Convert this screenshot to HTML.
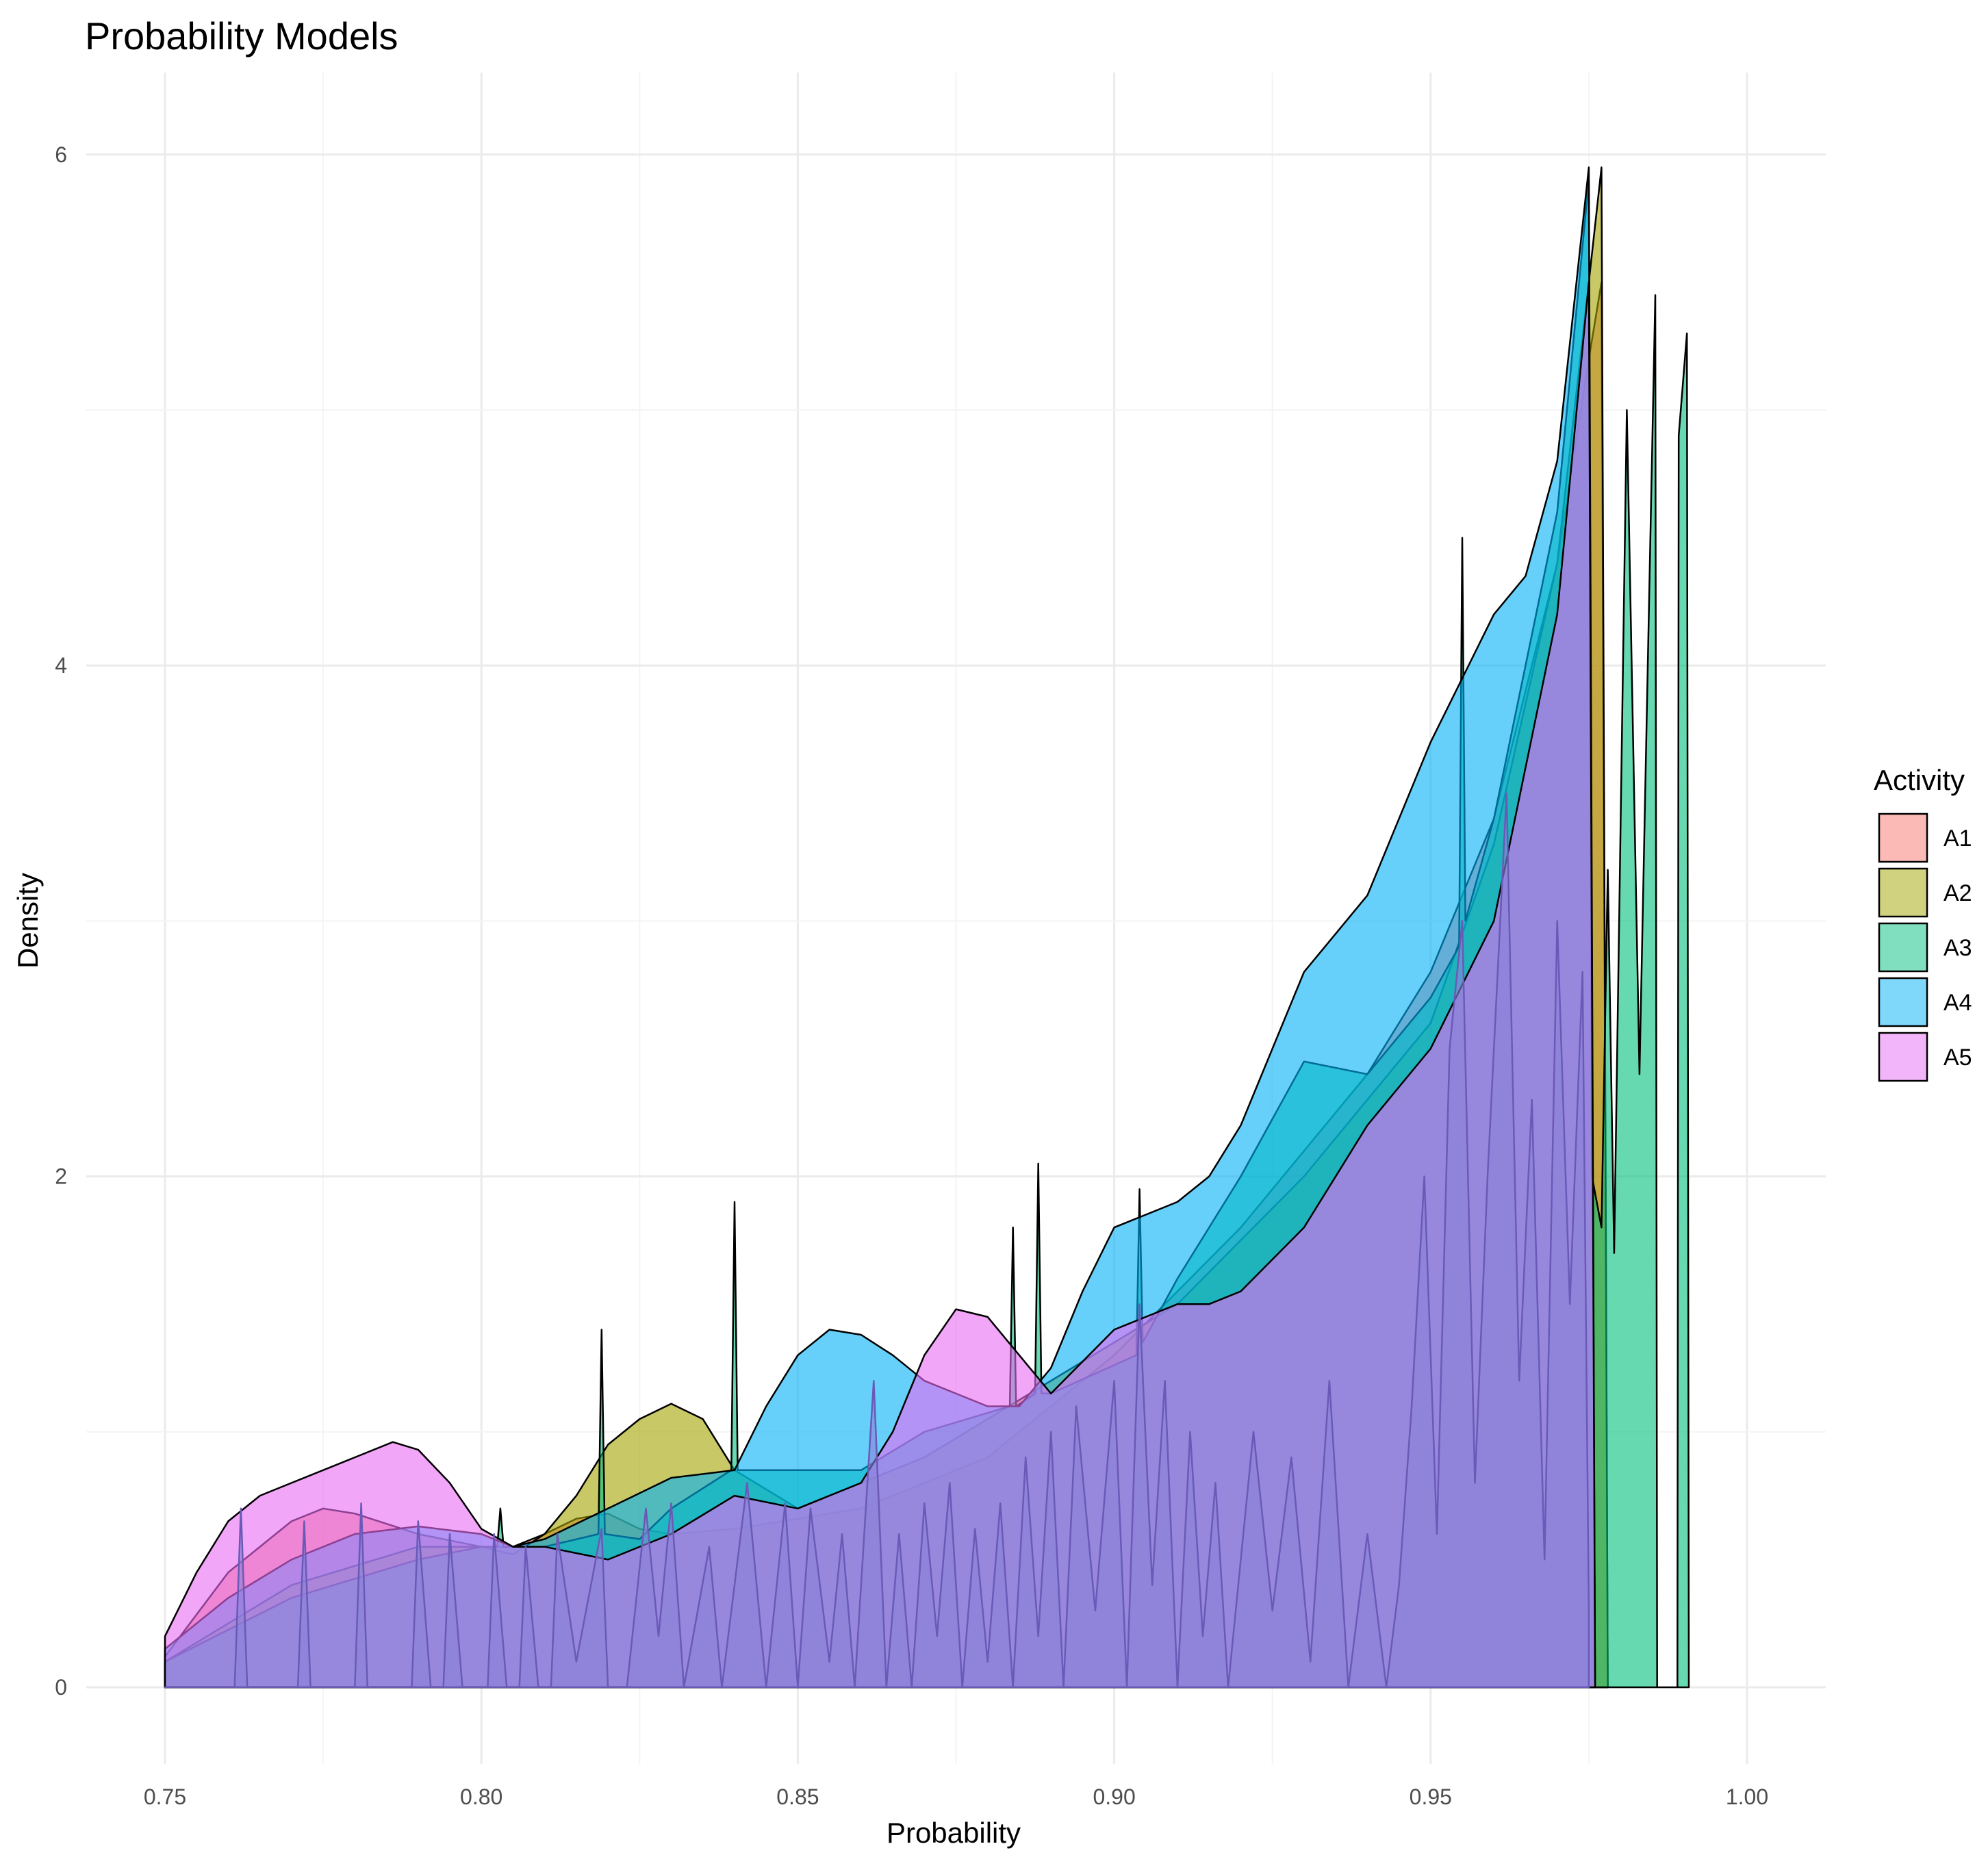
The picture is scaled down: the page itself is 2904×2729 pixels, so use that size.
<!DOCTYPE html>
<html><head><meta charset="utf-8"><style>
body{margin:0;background:#fff}
svg{display:block}
text{font-family:"Liberation Sans",sans-serif}
</style></head><body>
<svg id="chart" width="2904" height="2729" viewBox="0 0 2904 2729" xmlns="http://www.w3.org/2000/svg">
<rect width="2904" height="2729" fill="#fff"/>
<text x="124" y="72" font-size="56" fill="#000">Probability Models</text>
<g id="grid"></g>
<g id="series"></g>
<g id="axes"></g>
<text x="1393" y="2692" font-size="42" text-anchor="middle" fill="#000">Probability</text>
<text transform="translate(55,1345) rotate(-90)" font-size="42" text-anchor="middle" fill="#000">Density</text>
<g id="legend"></g>
</svg>
<script>
const xTicks=[0.75,0.80,0.85,0.90,0.95,1.00];
const xTickLabels=["0.75","0.80","0.85","0.90","0.95","1.00"];
const yTicks=[0,2,4,6];
const yTickLabels=["0","2","4","6"];
const activities=["A1","A2","A3","A4","A5"];
const colors=["#F8766D","#A3A500","#00BF7D","#00B0F6","#E76BF3"];
const a1X=[0.75,0.76,0.77,0.775,0.78,0.79,0.80,0.805,0.81,0.815,0.82,0.825,0.83,0.84,0.86,0.88,0.90,0.92,0.94,0.95,0.96,0.97,0.975,0.977,0.978];
const a1Y=[0.12,0.45,0.65,0.7,0.68,0.6,0.55,0.55,0.6,0.66,0.68,0.62,0.6,0.62,0.7,0.9,1.3,1.8,2.4,2.8,3.4,4.4,5.2,5.5,0];
const a2X=[0.75,0.77,0.79,0.80,0.805,0.81,0.815,0.82,0.825,0.83,0.835,0.84,0.85,0.87,0.89,0.91,0.93,0.95,0.96,0.97,0.975,0.977,0.978];
const a2Y=[0.1,0.4,0.55,0.55,0.52,0.6,0.75,0.95,1.05,1.11,1.05,0.85,0.7,0.9,1.2,1.5,2.0,2.6,3.3,4.4,5.5,5.95,0];
const a3X=[0.75,0.77,0.79,0.80,0.8025,0.803,0.8035,0.81,0.8185,0.819,0.8195,0.825,0.83,0.8395,0.84,0.8405,0.85,0.86,0.87,0.8835,0.884,0.8845,0.8875,0.888,0.8885,0.89,0.9035,0.904,0.9045,0.91,0.92,0.93,0.94,0.95,0.9545,0.955,0.9555,0.96,0.97,0.975,0.9755,0.977,0.978,0.979,0.981,0.983,0.9855,0.9858,0.989,0.9892,0.9905,0.9908];
const a3Y=[0.1,0.35,0.5,0.55,0.55,0.7,0.55,0.55,0.6,1.4,0.6,0.58,0.7,0.85,1.9,0.85,0.85,0.85,1.0,1.1,1.8,1.1,1.15,2.05,1.15,1.15,1.3,1.95,1.35,1.6,2.0,2.45,2.4,2.7,2.9,4.5,3.0,3.4,4.6,5.9,2.0,1.8,3.2,1.7,5.0,2.4,5.45,0,0,4.9,5.3,0];
const a4X=[0.75,0.76,0.77,0.78,0.79,0.80,0.805,0.81,0.82,0.83,0.84,0.845,0.85,0.855,0.86,0.865,0.87,0.88,0.885,0.89,0.895,0.90,0.91,0.915,0.92,0.93,0.94,0.95,0.96,0.965,0.97,0.975,0.976];
const a4Y=[0.15,0.35,0.5,0.6,0.63,0.6,0.55,0.58,0.7,0.82,0.85,1.1,1.3,1.4,1.38,1.3,1.2,1.1,1.1,1.25,1.55,1.8,1.9,2.0,2.2,2.8,3.1,3.7,4.2,4.35,4.8,5.95,0];
const a5X=[0.75,0.755,0.76,0.765,0.77,0.78,0.786,0.79,0.795,0.80,0.805,0.81,0.82,0.83,0.84,0.85,0.86,0.865,0.87,0.875,0.88,0.885,0.89,0.90,0.91,0.915,0.92,0.93,0.94,0.95,0.96,0.97,0.975,0.976];
const a5Y=[0.2,0.45,0.65,0.75,0.8,0.9,0.96,0.93,0.8,0.62,0.55,0.55,0.5,0.6,0.75,0.7,0.8,1.0,1.3,1.48,1.45,1.3,1.15,1.4,1.5,1.5,1.55,1.8,2.2,2.5,3.0,4.2,5.5,0];
const spikeX=[0.75,0.761,0.762,0.763,0.771,0.772,0.773,0.78,0.781,0.782,0.789,0.79,0.792,0.794,0.795,0.797,0.801,0.802,0.804,0.806,0.807,0.809,0.811,0.812,0.815,0.819,0.82,0.823,0.826,0.828,0.83,0.832,0.836,0.838,0.842,0.845,0.848,0.85,0.852,0.855,0.857,0.859,0.862,0.864,0.866,0.868,0.87,0.872,0.874,0.876,0.878,0.88,0.882,0.884,0.886,0.888,0.89,0.892,0.894,0.897,0.9,0.902,0.904,0.906,0.908,0.91,0.912,0.914,0.916,0.918,0.922,0.925,0.928,0.931,0.934,0.937,0.94,0.943,0.945,0.947,0.949,0.951,0.953,0.955,0.957,0.959,0.962,0.964,0.966,0.968,0.97,0.972,0.974,0.975];
const spikeY=[0,0,0.7,0,0,0.65,0,0,0.72,0,0,0.65,0,0,0.6,0,0,0.6,0,0,0.55,0,0,0.6,0.1,0.62,0,0,0.7,0.2,0.72,0,0.55,0,0.8,0,0.72,0,0.7,0.1,0.6,0,1.2,0,0.6,0,0.72,0.2,0.8,0,0.62,0.1,0.72,0,0.9,0.2,1.0,0,1.1,0.3,1.2,0,1.5,0.4,1.2,0,1.0,0.2,0.8,0,1.0,0.3,0.9,0.1,1.2,0,0.6,0,0.4,1.1,2.0,0.6,2.5,3.0,0.8,2.0,3.5,1.2,2.3,0.5,3.0,1.5,2.8,0.3];

const NS="http://www.w3.org/2000/svg";
const X=v=>241+(v-0.75)/0.25*2311;
const Y=d=>2465-d*373.2;
const L=126,R=2667,T=106,B=2577;
function mk(tag,attrs,parent){const e=document.createElementNS(NS,tag);for(const k in attrs)e.setAttribute(k,attrs[k]);parent.appendChild(e);return e;}
const grid=document.getElementById('grid');
for(let k=0;k<=10;k++){
  const v=0.75+k*0.025;
  const major=k%2===0;
  const ln=mk('line',{x1:X(v),x2:X(v),y1:T,y2:B,stroke:major?'#ebebeb':'#f4f4f4','stroke-width':major?3:2},grid);
  
  
}
for(let d=0;d<=6;d+=1){
  const major=d%2===0;
  const ln=mk('line',{x1:L,x2:R,y1:Y(d),y2:Y(d),stroke:major?'#ebebeb':'#f4f4f4','stroke-width':major?3:2},grid);
  
  
}
const axes=document.getElementById('axes');
xTicks.forEach((v,i)=>{const t=mk('text',{x:X(v),y:2636,'font-size':32,'text-anchor':'middle',fill:'#4d4d4d'},axes);t.textContent=xTickLabels[i];
  
  });
yTicks.forEach((v,i)=>{const t=mk('text',{x:98,y:Y(v)+11,'font-size':32,'text-anchor':'end',fill:'#4d4d4d'},axes);t.textContent=yTickLabels[i];
  
  });
const ser=document.getElementById('series');
function area(xs,ys,fill,op,stroke,name){
  let d='M'+X(xs[0])+','+Y(0);
  for(let i=0;i<xs.length;i++)d+=' L'+X(xs[i]).toFixed(1)+','+Y(ys[i]).toFixed(1);
  d+=' L'+X(xs[xs.length-1]).toFixed(1)+','+Y(0)+' Z';
  const p=mk('path',{d:d,fill:fill,'fill-opacity':op,stroke:stroke,'stroke-width':2.5,'stroke-linejoin':'round'},ser);
  
  
}
const sx=[a1X,a2X,a3X,a4X,a5X],sy=[a1Y,a2Y,a3Y,a4Y,a5Y];
for(let i=0;i<5;i++)area(sx[i],sy[i],colors[i],0.6,'#000','density-'+activities[i].toLowerCase());
area(spikeX,spikeY,'#8a82d8',0.6,'#6a5ab8','density-spikes');
const lg=document.getElementById('legend');
const lt=mk('text',{x:2737,y:1154,'font-size':42,fill:'#000'},lg);lt.textContent='Activity';


activities.forEach((a,i)=>{
  const y0=1189+i*80;
  const r=mk('rect',{x:2745,y:y0,width:70,height:70,fill:colors[i],'fill-opacity':0.5,stroke:'#000','stroke-width':2.5},lg);
  
  
  const t=mk('text',{x:2839,y:y0+47,'font-size':34,fill:'#000'},lg);t.textContent=a;
  
  
});
</script>
</body></html>
